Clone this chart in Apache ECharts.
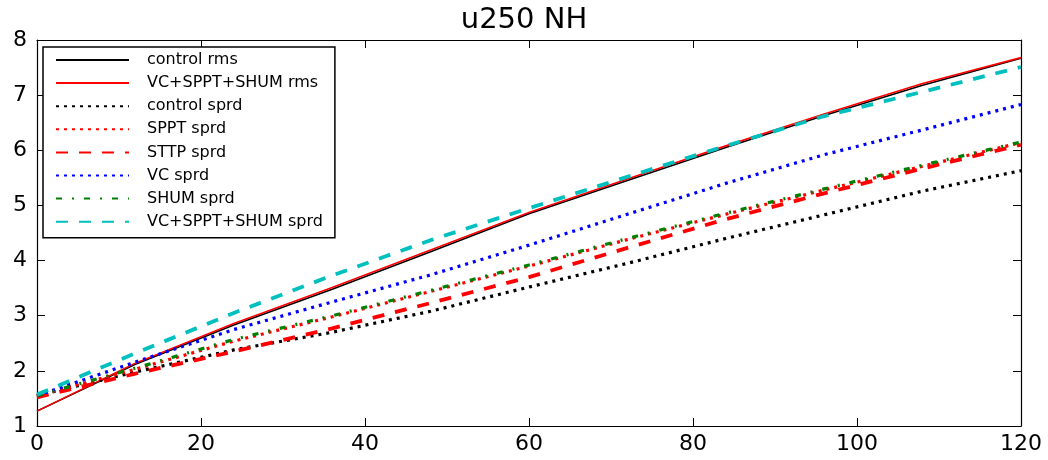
<!DOCTYPE html>
<html>
<head>
<meta charset="utf-8">
<script src="https://cdn.jsdelivr.net/npm/echarts@6/dist/echarts.min.js"></script>
<style>html,body{margin:0;padding:0;background:#fff;}#c{width:1048px;height:460px;}</style>
</head>
<body>
<div id="c"></div>
<script>
var hours = [0, 12, 24, 36, 48, 60, 72, 84, 96, 108, 120];
var xTicks = [0, 20, 40, 60, 80, 100, 120];
var yTicks = [1, 2, 3, 4, 5, 6, 7, 8];
var controlRms     = [1.27, 2.12, 2.83, 3.48, 4.16, 4.85, 5.45, 6.05, 6.63, 7.18, 7.67];
var vcSpptShumRms  = [1.27, 2.14, 2.86, 3.51, 4.19, 4.87, 5.48, 6.08, 6.66, 7.21, 7.68];
var controlSprd    = [1.55, 1.98, 2.38, 2.70, 3.08, 3.52, 3.95, 4.40, 4.83, 5.26, 5.63];
var spptSprd       = [1.55, 2.03, 2.54, 2.98, 3.44, 3.90, 4.38, 4.84, 5.28, 5.71, 6.14];
var sttpSprd       = [1.52, 1.95, 2.35, 2.77, 3.23, 3.70, 4.23, 4.75, 5.22, 5.67, 6.10];
var vcSprd         = [1.55, 2.16, 2.75, 3.25, 3.74, 4.28, 4.84, 5.40, 5.92, 6.37, 6.83];
var shumSprd       = [1.55, 2.05, 2.57, 3.00, 3.46, 3.92, 4.40, 4.86, 5.30, 5.73, 6.15];
var vcSpptShumSprd = [1.57, 2.32, 3.05, 3.73, 4.37, 4.95, 5.52, 6.08, 6.62, 7.06, 7.51];

function pairs(v) { return hours.map(function (h, i) { return [h, v[i]]; }); }
function mk(name, vals, color, width, type) {
  return {
    name: name, type: 'line', data: pairs(vals), symbol: 'none', smooth: false,
    xAxisIndex: 0, yAxisIndex: 0, animation: false,
    lineStyle: { color: color, width: width, type: type, cap: 'butt' },
    itemStyle: { color: color }
  };
}
var FONT = 'DejaVu Sans';
var chart = echarts.init(document.getElementById('c'), null, { renderer: 'canvas' });
var grid = { left: 37, right: 27, top: 40, bottom: 34, show: false, containLabel: false };
chart.setOption({
  animation: false,
  backgroundColor: '#ffffff',
  title: {
    text: 'u250 NH', left: 'center', top: 1,
    textStyle: { fontFamily: FONT, fontSize: 29, fontWeight: 'normal', color: '#000' }
  },
  grid: grid,
  legend: {
    orient: 'vertical', left: 43, top: 47,
    padding: [5, 12, 8, 12],
    backgroundColor: '#fff', borderColor: '#000', borderWidth: 1.5,
    itemWidth: 73, itemHeight: 14, itemGap: 7.1,
    itemStyle: { opacity: 0 },
    textStyle: { fontFamily: FONT, fontSize: 16, color: '#000', lineHeight: 16, padding: [0, 0, 0, 13] },
    data: ['control rms', 'VC+SPPT+SHUM rms', 'control sprd', 'SPPT sprd', 'STTP sprd', 'VC sprd', 'SHUM sprd', 'VC+SPPT+SHUM sprd']
  },
  xAxis: [{
    type: 'value', min: xTicks[0], max: xTicks[xTicks.length - 1], interval: 20, position: 'bottom',
    axisLine: { show: true, onZero: false, lineStyle: { color: '#000', width: 1.2 } },
    axisTick: { show: true, inside: true, length: 8, lineStyle: { color: '#000', width: 1 } },
    axisLabel: { margin: 7, fontFamily: FONT, fontSize: 22, color: '#000' },
    splitLine: { show: false }
  }, {
    type: 'value', min: xTicks[0], max: xTicks[xTicks.length - 1], interval: 20, position: 'top',
    axisLine: { show: true, onZero: false, lineStyle: { color: '#000', width: 1.2 } },
    axisTick: { show: true, inside: true, length: 8, lineStyle: { color: '#000', width: 1 } },
    axisLabel: { show: false }, splitLine: { show: false }
  }],
  yAxis: [{
    type: 'value', min: yTicks[0], max: yTicks[yTicks.length - 1], interval: 1, position: 'left',
    axisLine: { show: true, onZero: false, lineStyle: { color: '#000', width: 1.2 } },
    axisTick: { show: true, inside: true, length: 8, lineStyle: { color: '#000', width: 1 } },
    axisLabel: { margin: 10, fontFamily: FONT, fontSize: 22, color: '#000' },
    splitLine: { show: false }
  }, {
    type: 'value', min: yTicks[0], max: yTicks[yTicks.length - 1], interval: 1, position: 'right',
    axisLine: { show: true, onZero: false, lineStyle: { color: '#000', width: 1.2 } },
    axisTick: { show: true, inside: true, length: 8, lineStyle: { color: '#000', width: 1 } },
    axisLabel: { show: false }, splitLine: { show: false }
  }],
  series: [
    mk('control rms', controlRms, '#000000', 1.6, 'solid'),
    mk('VC+SPPT+SHUM rms', vcSpptShumRms, '#ff0000', 1.6, 'solid'),
    mk('control sprd', controlSprd, '#000000', 3.2, [3, 5]),
    mk('SPPT sprd', spptSprd, '#ff0000', 3.2, [3, 5]),
    mk('STTP sprd', sttpSprd, '#ff0000', 3.8, [12, 11]),
    mk('VC sprd', vcSprd, '#0000ff', 3.2, [3, 5]),
    mk('SHUM sprd', shumSprd, '#008000', 3.2, [6, 10, 2, 10]),
    mk('VC+SPPT+SHUM sprd', vcSpptShumSprd, '#00bfbf', 3.8, [12, 11])
  ]
});
</script>
</body>
</html>
